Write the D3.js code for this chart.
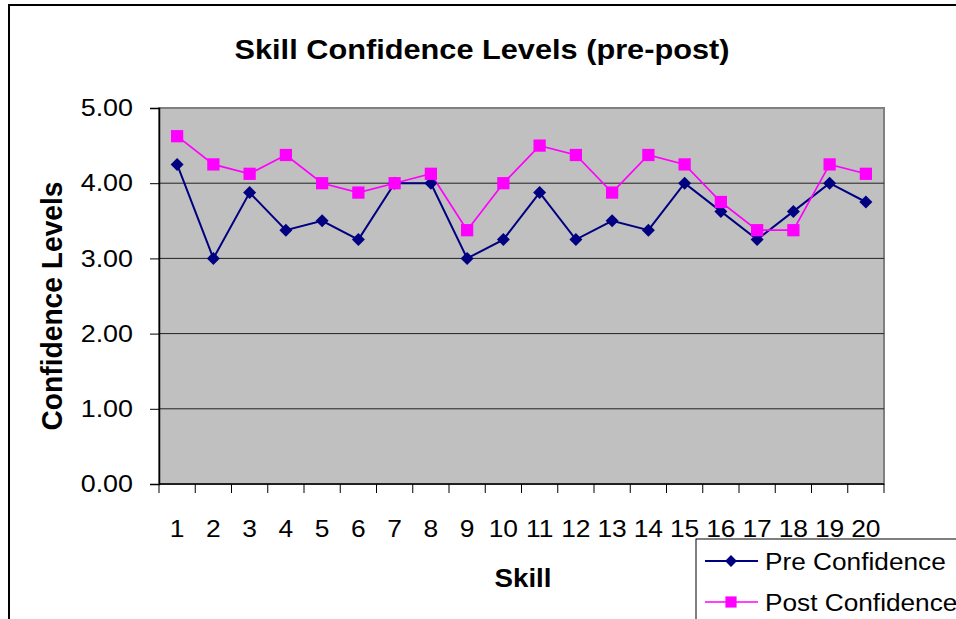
<!DOCTYPE html>
<html>
<head>
<meta charset="utf-8">
<script src="https://cdn.jsdelivr.net/npm/d3@7"></script>
<style>
  body { margin: 0; background: #fff; }
  svg { display: block; font-family: "Liberation Sans", Arial, sans-serif; }
</style>
</head>
<body>
<div id="chart"></div>
<script>
const skills = d3.range(1, 21).map(String);
const preConfidence = [4.25, 3.0, 3.875, 3.375, 3.5, 3.25, 4.0, 4.0, 3.0, 3.25,
                       3.875, 3.25, 3.5, 3.375, 4.0, 3.625, 3.25, 3.625, 4.0, 3.75];
const postConfidence = [4.625, 4.25, 4.125, 4.375, 4.0, 3.875, 4.0, 4.125, 3.375, 4.0,
                        4.5, 4.375, 3.875, 4.375, 4.25, 3.75, 3.375, 3.375, 4.25, 4.125];
const yTicks = [0, 1, 2, 3, 4, 5];

const width = 956, height = 619;
const plot = { left: 159, top: 108, right: 884, bottom: 484 };

const svg = d3.select("#chart").append("svg")
    .attr("width", width)
    .attr("height", height);

// the original picture is a bit wider than tall, so text gets stretched sideways
function stretch(sel, k) {
    sel.each(function() {
        const w = this.getComputedTextLength();
        d3.select(this).attr("textLength", w * k).attr("lengthAdjust", "spacingAndGlyphs");
    });
}

// outer chart frame
svg.append("rect")
    .attr("x", 9).attr("y", 5)
    .attr("width", 1000).attr("height", 700)
    .attr("fill", "#fff")
    .attr("stroke", "#000")
    .attr("stroke-width", 2);

const x = d3.scaleBand().domain(skills).range([plot.left, plot.right]).padding(0);
const y = d3.scaleLinear().domain([0, 5]).range([plot.bottom, plot.top]);

svg.append("rect")
    .attr("x", plot.left).attr("y", plot.top)
    .attr("width", plot.right - plot.left)
    .attr("height", plot.bottom - plot.top)
    .attr("fill", "#c0c0c0")
    .attr("stroke", "#808080")
    .attr("stroke-width", 2);

// gridlines
svg.append("g").selectAll("line")
    .data(yTicks.filter(t => t > 0 && t < 5))
    .join("line")
    .attr("x1", plot.left).attr("x2", plot.right)
    .attr("y1", d => y(d)).attr("y2", d => y(d))
    .attr("stroke", "#222")
    .attr("stroke-width", 1);

// y axis
const yAxis = svg.append("g")
    .attr("transform", `translate(${plot.left},0)`)
    .call(d3.axisLeft(y).tickValues(yTicks).tickFormat(d3.format(".2f")).tickSize(9).tickPadding(17));
yAxis.select(".domain").attr("stroke", "#000").attr("stroke-width", 1.5);
yAxis.selectAll(".tick line").attr("stroke", "#000");
yAxis.selectAll("text").attr("font-size", 24).attr("fill", "#000").call(stretch, 1.12);

// x axis with ticks on category boundaries
const xAxisG = svg.append("g");
xAxisG.append("line")
    .attr("x1", plot.left).attr("x2", plot.right)
    .attr("y1", plot.bottom).attr("y2", plot.bottom)
    .attr("stroke", "#000").attr("stroke-width", 1.5);
const bounds = skills.map(s => x(s)).concat([plot.right]);
xAxisG.selectAll("line.tk")
    .data(bounds)
    .join("line")
    .attr("class", "tk")
    .attr("x1", d => d).attr("x2", d => d)
    .attr("y1", plot.bottom).attr("y2", plot.bottom + 9)
    .attr("stroke", "#000");
xAxisG.selectAll("text")
    .data(skills)
    .join("text")
    .attr("x", d => x(d) + x.bandwidth() / 2)
    .attr("y", 537)
    .attr("text-anchor", "middle")
    .attr("font-size", 24)
    .text(d => d)
    .call(stretch, 1.1);

// titles
svg.append("text")
    .attr("x", 482).attr("y", 59)
    .attr("text-anchor", "middle")
    .attr("font-size", 28).attr("font-weight", "bold")
    .attr("textLength", 495).attr("lengthAdjust", "spacingAndGlyphs")
    .text("Skill Confidence Levels (pre-post)");
svg.append("text")
    .attr("transform", "translate(62,306) scale(1.15,1) rotate(-90)")
    .attr("text-anchor", "middle")
    .attr("font-size", 26).attr("font-weight", "bold")
    .attr("textLength", 249).attr("lengthAdjust", "spacingAndGlyphs")
    .text("Confidence Levels");
svg.append("text")
    .attr("x", 523).attr("y", 587)
    .attr("text-anchor", "middle")
    .attr("font-size", 25).attr("font-weight", "bold")
    .attr("textLength", 57).attr("lengthAdjust", "spacingAndGlyphs")
    .text("Skill");

const cx = (d, i) => x(skills[i]) + x.bandwidth() / 2;
const line = d3.line().x(cx).y(d => y(d));

const series = [
    { name: "Pre Confidence", values: preConfidence, color: "#000080", rot: 45, size: 84, lw: 2 },
    { name: "Post Confidence", values: postConfidence, color: "#ff00ff", rot: 0, size: 150, lw: 1.7 }
];

series.forEach(s => {
    svg.append("path")
        .datum(s.values)
        .attr("fill", "none")
        .attr("stroke", s.color)
        .attr("stroke-width", s.lw)
        .attr("d", line);
});
series.forEach(s => {
    svg.append("g").selectAll("path")
        .data(s.values)
        .join("path")
        .attr("transform", (d, i) => `translate(${cx(d, i)},${y(d)}) rotate(${s.rot})`)
        .attr("d", d3.symbol().type(d3.symbolSquare).size(s.size))
        .attr("fill", s.color);
});

// legend
const legend = svg.append("g");
legend.append("rect")
    .attr("x", 696).attr("y", 539)
    .attr("width", 400).attr("height", 200)
    .attr("fill", "#fff")
    .attr("stroke", "#000").attr("stroke-width", 1);
series.forEach((s, i) => {
    const ly = 561 + i * 41;
    legend.append("line")
        .attr("x1", 705).attr("x2", 758)
        .attr("y1", ly).attr("y2", ly)
        .attr("stroke", s.color).attr("stroke-width", s.lw);
    legend.append("path")
        .attr("transform", `translate(731,${ly}) rotate(${s.rot})`)
        .attr("d", d3.symbol().type(d3.symbolSquare).size(s.rot ? 70 : 125))
        .attr("fill", s.color);
    legend.append("text")
        .attr("x", 765).attr("y", ly + 9)
        .attr("font-size", 23)
        .text(s.name)
        .call(stretch, 1.14);
});
</script>
</body>
</html>
